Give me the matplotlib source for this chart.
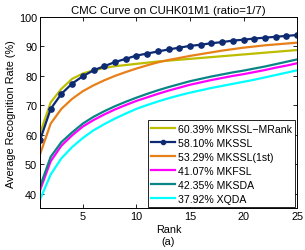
import matplotlib.pyplot as plt
import numpy as np

plt.rcParams['font.family'] = ['Liberation Sans', 'DejaVu Sans']

# ranks 1..25
rank = np.arange(1, 26)

mkssl_mrank = [60.39, 71.0, 75.6, 79.0, 80.8, 81.9, 82.7, 83.3, 83.7, 84.1, 84.5, 84.9, 85.2,
               85.5, 85.8, 86.1, 86.4, 86.7, 87.0, 87.3, 87.6, 87.9, 88.2, 88.5, 88.8]
mkssl = [58.10, 68.8, 73.9, 77.4, 79.9, 81.9, 83.3, 84.7, 85.8, 86.9, 87.6, 88.3, 89.0,
         89.6, 90.2, 90.6, 91.1, 91.5, 92.0, 92.3, 92.7, 93.0, 93.3, 93.6, 93.9]
mkssl_1st = [53.29, 63.8, 68.8, 72.2, 74.8, 76.8, 78.5, 80.0, 81.3, 82.5, 83.6, 84.6, 85.4,
             86.1, 86.8, 87.4, 88.0, 88.6, 89.1, 89.6, 90.0, 90.4, 90.7, 91.0, 91.3]
mkfsl = [41.07, 51.0, 56.3, 59.8, 62.8, 65.0, 66.9, 68.6, 70.1, 71.5, 72.7, 73.9, 75.0,
         76.0, 77.0, 77.8, 78.6, 79.3, 80.0, 80.6, 81.3, 82.0, 82.8, 83.5, 84.3]
mksda = [42.35, 52.5, 57.5, 60.8, 63.8, 66.1, 68.0, 69.7, 71.2, 72.6, 73.9, 75.1, 76.2,
         77.2, 78.2, 79.0, 79.8, 80.5, 81.2, 81.8, 82.5, 83.2, 84.0, 84.8, 85.6]
xqda = [37.92, 46.5, 52.0, 55.8, 58.9, 61.5, 63.6, 65.5, 67.2, 68.8, 70.1, 71.3, 72.4,
        73.4, 74.3, 75.1, 75.9, 76.6, 77.3, 78.0, 78.7, 79.5, 80.3, 81.1, 81.9]

labels = ['60.39% MKSSL\u2212MRank', '58.10% MKSSL', '53.29% MKSSL(1st)',
          '41.07% MKFSL', '42.35% MKSDA', '37.92% XQDA']

fig = plt.figure(figsize=(3.05, 2.51), dpi=100)
ax = fig.add_axes([0.131, 0.166, 0.843, 0.762])

ax.plot(rank, mkssl_mrank, color='#BDBD00', lw=1.6, label=labels[0])
ax.plot(rank, mkssl, color='#0D2A72', lw=1.6, marker='o', ms=3.8, label=labels[1])
ax.plot(rank, mkssl_1st, color='#E8801A', lw=1.6, label=labels[2])
ax.plot(rank, mkfsl, color='#FF00FF', lw=1.6, label=labels[3])
ax.plot(rank, mksda, color='#0A8585', lw=1.6, label=labels[4])
ax.plot(rank, xqda, color='#00FFFF', lw=1.6, label=labels[5])

ax.set_xlim(1, 25)
ax.set_ylim(35, 100)
ax.set_xticks([5, 10, 15, 20, 25])
ax.set_yticks([40, 50, 60, 70, 80, 90, 100])
ax.tick_params(direction='in', top=True, right=True, labelsize=7.8, length=3, width=0.6, pad=2)
for s in ax.spines.values():
    s.set_linewidth(0.7)

ax.set_title('CMC Curve on CUHK01M1 (ratio=1/7)', fontsize=8.2, pad=3)
ax.set_xlabel('Rank\n(a)', fontsize=7.8, labelpad=2, linespacing=1.3)
ax.set_ylabel('Average Recognition Rate (%)', fontsize=7.8, labelpad=2)

leg = ax.legend(loc='lower right', fontsize=7.6, frameon=True, fancybox=False,
                edgecolor='black', framealpha=1, borderaxespad=0.15,
                handlelength=2.3, handletextpad=0.3, labelspacing=0.38,
                borderpad=0.3)
leg.get_frame().set_linewidth(0.6)
for h in leg.legend_handles:
    h.set_markersize(3)

fig.savefig('out.png', dpi=100)
